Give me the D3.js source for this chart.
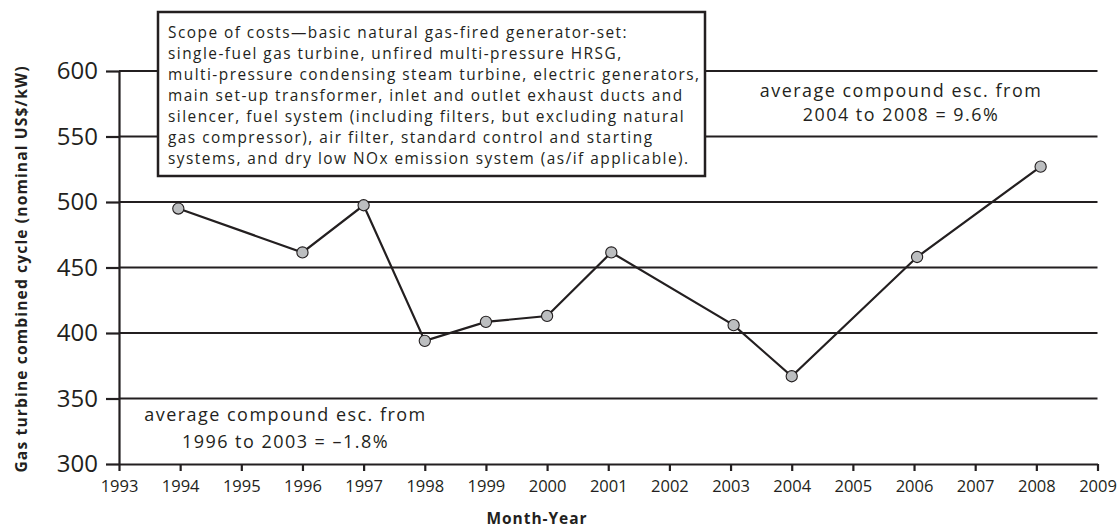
<!DOCTYPE html>
<html>
<head>
<meta charset="utf-8">
<script src="https://cdn.jsdelivr.net/npm/d3@7"></script>
<style>
  html, body { margin: 0; padding: 0; background: #fff; }
  svg { display: block; }
  text { font-family: "Open Sans", "Noto Sans", sans-serif; fill: #231f20; }
</style>
</head>
<body>
<svg id="chart" width="1117" height="529"></svg>
<script>
// ---- data ----
const years  = [1993.97, 1996, 1997, 1998, 1999, 2000, 2001.05, 2003.05, 2004, 2006.05, 2008.07];
const costs  = [495, 461.5, 497.5, 394, 408.5, 413, 461.5, 406, 367, 458, 527];
const xTicks = [1993, 1994, 1995, 1996, 1997, 1998, 1999, 2000, 2001, 2002, 2003, 2004, 2005, 2006, 2007, 2008, 2009];
const yTicks = [300, 350, 400, 450, 500, 550, 600];
const boxLines = [
  "Scope of costs\u2014basic natural gas-fired generator-set:",
  "single-fuel gas turbine, unfired multi-pressure HRSG,",
  "multi-pressure condensing steam turbine, electric generators,",
  "main set-up transformer, inlet and outlet exhaust ducts and",
  "silencer, fuel system (including filters, but excluding natural",
  "gas compressor), air filter, standard control and starting",
  "systems, and dry low NOx emission system (as/if applicable)."
];
const noteRight = ["average compound esc. from", "2004 to 2008 = 9.6%"];
const noteLeft  = ["average compound esc. from", "1996 to 2003 = \u20131.8%"];
const yTitle = "Gas turbine combined cycle (nominal US$/kW)";
const xTitle = "Month-Year";

// ---- layout ----
const W = 1117, H = 529;
const m = { left: 119, right: 19.5, top: 71, bottom: 65 };
const ink = "#231f20";
const svg = d3.select("#chart");

const x = d3.scaleLinear().domain([1993, 2009]).range([m.left, W - m.right]);
const y = d3.scaleLinear().domain([300, 600]).range([H - m.bottom, m.top]);

// fit helper: set font size, then small letter-spacing so widest line matches target width
function fitSpacing(sel, fs, target) {
  sel.style("font-size", fs + "px").style("letter-spacing", "0px");
  let maxW = 0, n = 1;
  sel.each(function () {
    const w = this.getComputedTextLength();
    if (w > maxW) { maxW = w; n = this.textContent.length; }
  });
  const ls = (target - maxW) / Math.max(1, n - 1);
  sel.style("letter-spacing", ls + "px");
}

// gridlines
svg.append("g")
  .selectAll("line")
  .data(yTicks.filter(v => v !== 300))
  .join("line")
  .attr("x1", x(1993)).attr("x2", x(2009))
  .attr("y1", d => y(d)).attr("y2", d => y(d))
  .attr("stroke", ink).attr("stroke-width", 2.2);

// y axis
const gy = svg.append("g")
  .attr("transform", `translate(${m.left},0)`)
  .call(d3.axisLeft(y).tickValues(yTicks).tickSize(13).tickSizeOuter(0).tickPadding(8).tickFormat(d3.format("d")));
gy.selectAll("path, line").attr("stroke", ink).attr("stroke-width", 2.2);
gy.selectAll("text").style("font-size", "24px").attr("fill", ink)
  .style("font-family", '"Open Sans", sans-serif');

// x axis
const gx = svg.append("g")
  .attr("transform", `translate(0,${H - m.bottom})`)
  .call(d3.axisBottom(x).tickValues(xTicks).tickSize(7).tickSizeOuter(0).tickPadding(9).tickFormat(d3.format("d")));
gx.selectAll("path, line").attr("stroke", ink).attr("stroke-width", 2.2);
gx.selectAll("text").style("font-size", "16.5px").attr("fill", ink)
  .style("font-family", '"Open Sans", sans-serif');

// scope box
const box = { x0: 158, y0: 12, x1: 705, y1: 176 };
svg.append("rect")
  .attr("x", box.x0).attr("y", box.y0)
  .attr("width", box.x1 - box.x0).attr("height", box.y1 - box.y0)
  .attr("fill", "#fff").attr("stroke", ink).attr("stroke-width", 2.5);
const bt = svg.append("g").selectAll("text")
  .data(boxLines).join("text")
  .attr("x", 168)
  .attr("y", (d, i) => 32 + 21 * i)
  .attr("dy", "0.36em")
  .text(d => d);
fitSpacing(bt, 15.4, 531);

// line
const pts = years.map((yr, i) => [yr, costs[i]]);
svg.append("path")
  .datum(pts)
  .attr("fill", "none")
  .attr("stroke", ink)
  .attr("stroke-width", 2.2)
  .attr("d", d3.line().x(d => x(d[0])).y(d => y(d[1])));

svg.append("g").selectAll("circle")
  .data(pts).join("circle")
  .attr("cx", d => x(d[0])).attr("cy", d => y(d[1]))
  .attr("r", 5.6)
  .attr("fill", "#bcbec0")
  .attr("stroke", ink).attr("stroke-width", 1.1);

// annotations
const nr = svg.append("g").selectAll("text")
  .data(noteRight).join("text")
  .attr("x", 901).attr("y", (d, i) => 90.5 + 24.5 * i)
  .attr("dy", "0.36em").attr("text-anchor", "middle")
  .text(d => d);
fitSpacing(nr, 17.9, 281);

const nl = svg.append("g").selectAll("text")
  .data(noteLeft).join("text")
  .attr("x", 285.5).attr("y", (d, i) => 415 + 26.5 * i)
  .attr("dy", "0.36em").attr("text-anchor", "middle")
  .text(d => d);
fitSpacing(nl, 18, 281);

// axis titles
const yt = svg.append("text")
  .attr("transform", "translate(21,269) rotate(-90)")
  .attr("text-anchor", "middle").attr("dy", "0.36em")
  .style("font-weight", "bold")
  .text(yTitle);
fitSpacing(yt, 15.6, 406);

const xt = svg.append("text")
  .attr("x", 537).attr("y", 524)
  .attr("text-anchor", "middle")
  .style("font-weight", "bold")
  .text(xTitle);
fitSpacing(xt, 15.5, 100);
</script>
</body>
</html>
